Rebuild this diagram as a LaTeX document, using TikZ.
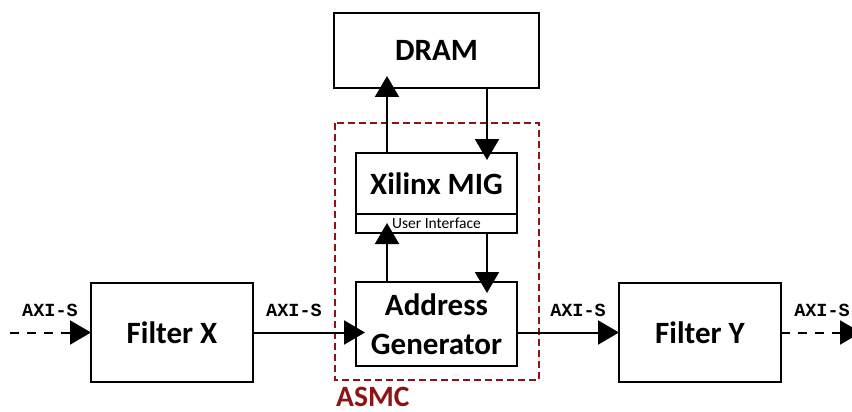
\documentclass[tikz,border=0pt]{standalone}
\usepackage{fontspec}
\setmainfont{Carlito}
\newfontfamily\monofont{Liberation Mono}
\usetikzlibrary{arrows.meta,calc}
\definecolor{asmcred}{RGB}{140,20,20}
\tikzset{
  blk/.style={draw=black,line width=2.4pt,inner sep=0pt,outer sep=0pt,font=\fontsize{31}{34}\selectfont\bfseries,align=center},
  conn/.style={line width=2pt,-{Triangle[length=21pt,width=24pt]}},
  poke/.style={shorten >=-10pt},
  dconn/.style={conn,dash pattern=on 9pt off 8pt},
  axi/.style={font=\monofont\fontsize{18.5}{20}\selectfont\bfseries,anchor=base},
}
\begin{document}
\begin{tikzpicture}[x=1pt,y=-1pt]
\useasboundingbox (0,0) rectangle (852,412);
\clip (0,0) rectangle (852,412);
% ASMC frame
\draw[asmcred,line width=2pt,dash pattern=on 7pt off 4pt] (335,123) rectangle (539,380);
\node[text=asmcred,font=\fontsize{29.5}{31}\selectfont\bfseries,anchor=base west,inner sep=0pt] (asmc) at (336,406) {ASMC};
% boxes
\node[blk,minimum width=205pt,minimum height=75pt] (dram) at (436.5,50.5) {DRAM};
\node[blk,minimum width=161pt,minimum height=61pt] (mig) at (436.5,183.5) {Xilinx MIG};
\node[draw=black,line width=2.4pt,inner sep=0pt,outer sep=0pt,minimum width=161pt,minimum height=19pt,anchor=north,font=\fontsize{15.5}{17}\selectfont] (ui) at (mig.south) {User Interface};
\node[blk,minimum width=161pt,minimum height=84pt] (ag) at (436.5,324) {Address\\[5pt]Generator};
\node[blk,minimum width=162pt,minimum height=99pt] (fx) at (172,332.5) {Filter X};
\node[blk,minimum width=162pt,minimum height=99pt] (fy) at (700,332.5) {Filter Y};
% free ends
\coordinate (inL) at (10,332.5);
\coordinate (outR) at (861,332.5);
% vertical connectors
\draw[conn,shorten >=-12pt] (mig.north -| 387,0) -- (dram.south -| 387,0);
\draw[conn,shorten >=-7pt] (dram.south -| 487,0) -- (mig.north -| 487,0);
\draw[conn,shorten >=-10pt] (ag.north -| 387,0) -- (ui.south -| 387,0);
\draw[conn,shorten >=-11pt] (ui.south -| 487,0) -- (ag.north -| 487,0);
% horizontal connectors
\draw[dconn] (inL) -- (fx.west);
\draw[conn,shorten >=-9pt] (fx.east) -- (fx.east -| ag.west);
\draw[conn] (ag.east |- fy.west) -- (fy.west);
\draw[dconn] (fy.east) -- (outR);
% labels
\node[axi] (l1) at (50,316) {AXI-S};
\node[axi] (l2) at (294,316) {AXI-S};
\node[axi] (l3) at (578,316) {AXI-S};
\node[axi] (l4) at (822,316) {AXI-S};
\end{tikzpicture}
\end{document}
